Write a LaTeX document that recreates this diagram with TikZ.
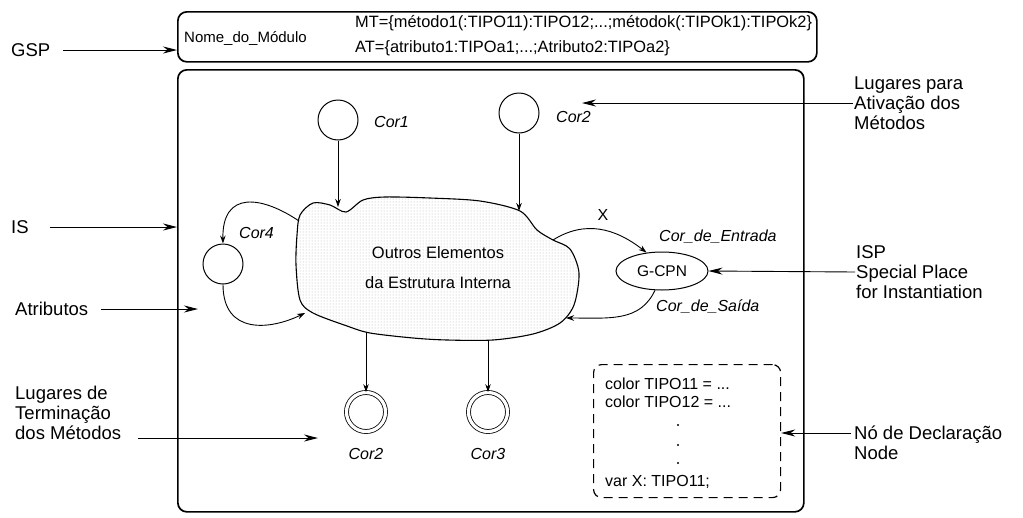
\documentclass[tikz,border=0pt]{standalone}
\usepackage{fontspec}
\setmainfont{Liberation Sans}
\usetikzlibrary{arrows.meta,positioning,patterns,shapes.geometric}

\begin{document}
\begin{tikzpicture}[x=1pt,y=-1pt,font=\fontsize{16}{20}\selectfont,
  place/.style={circle,draw,line width=1pt,minimum size=40pt,inner sep=0pt},
  endplace/.style={circle,draw,line width=0.8pt,double,double distance=3.2pt,minimum size=39pt,inner sep=0pt},
  lab/.style={font=\fontsize{16}{20}\selectfont\itshape,inner sep=1pt},
  side/.style={align=left,anchor=west,inner sep=1pt,font=\fontsize{18.5}{20}\selectfont},
  txt/.style={anchor=west,inner sep=1pt},
  arc/.style={line width=0.9pt,-{Stealth[length=8pt,width=5.5pt]}},
  pointer/.style={line width=0.9pt,-{Stealth[length=14pt,width=7pt]}},
  frame/.style={draw,line width=1.7pt,rounded corners=9pt,inner sep=0pt,anchor=north west}]
  \useasboundingbox (0,0) rectangle (1023,517);
  % module header and body
  \node[frame,minimum width=639pt,minimum height=50pt] (hdr) at (177,11) {};
  \node[frame,minimum width=626pt,minimum height=442pt] (body) at (177,69) {};
  \node[txt,font=\fontsize{15}{18}\selectfont] (modname) at (183,38) {Nome\_do\_Módulo};
  \node[txt,font=\fontsize{16.4}{20}\selectfont] (mt) at (354,23) {MT=\{método1(:TIPO11):TIPO12;...;métodok(:TIPOk1):TIPOk2\}};
  \node[txt,font=\fontsize{16.4}{20}\selectfont] (at) at (354,48) {AT=\{atributo1:TIPOa1;...;Atributo2:TIPOa2\}};
  % internal structure
  \fill[pattern=dots,pattern color=black!30]
    plot[smooth cycle,tension=0.5] coordinates {(300,215) (313,203) (330,205) (346,212)
      (363,200) (385,197) (430,198) (480,201) (520,211) (537,230) (553,240) (570,249)
      (579,273) (574,305) (560,323) (533,334) (493,340) (447,340) (413,338) (370,333)
      (347,326) (313,313) (300,300) (296,265) (297,235)};
  \draw[line width=1.1pt]
    plot[smooth cycle,tension=0.5] coordinates {(300,215) (313,203) (330,205) (346,212)
      (363,200) (385,197) (430,198) (480,201) (520,211) (537,230) (553,240) (570,249)
      (579,273) (574,305) (560,323) (533,334) (493,340) (447,340) (413,338) (370,333)
      (347,326) (313,313) (300,300) (296,265) (297,235)};
  \node[align=center,font=\fontsize{16.5}{30}\selectfont] (outros) at (438,268)
    {Outros Elementos\\da Estrutura Interna};
  \coordinate (cl1) at (338,207);
  \coordinate (cl2) at (519,211);
  \coordinate (c4out) at (299,221);
  \coordinate (c4in) at (305,313);
  \coordinate (xout) at (553,240);
  \coordinate (sin) at (566,318);
  \coordinate (cb1) at (366,332);
  \coordinate (cb2) at (488,340);
  % places
  \node[place] (cor1) at (338,120) {};
  \node[lab,anchor=west] (cor1lab) at (373,122) {Cor1};
  \node[place] (cor2a) at (519,113) {};
  \node[lab,anchor=west] (cor2alab) at (555,117) {Cor2};
  \node[place] (cor4) at (223,264) {};
  \node[lab,anchor=west] (cor4lab) at (238,233) {Cor4};
  \node[endplace] (cor2b) at (366,412) {};
  \node[lab] (cor2blab) at (366,454) {Cor2};
  \node[endplace] (cor3) at (488,412) {};
  \node[lab] (cor3lab) at (488,454) {Cor3};
  \node[draw,ellipse,line width=1pt,minimum width=92pt,minimum height=38pt,inner sep=0pt,
    font=\fontsize{15.5}{18}\selectfont] (gcpn) at (662,271) {G-CPN};
  \node[lab,anchor=west] (entlab) at (658,237) {Cor\_de\_Entrada};
  \node[lab,anchor=west] (saílab) at (655,307) {Cor\_de\_Saída};
  \node (xlab) at (603,215) {X};
  % arcs
  \draw[arc] (cor1.south) -- (cl1);
  \draw[arc] (cor2a.south) -- (cl2);
  \draw[arc] (c4out) .. controls (262,196) and (222,190) .. (cor4.north);
  \draw[arc] (cor4.south) .. controls (223,335) and (270,330) .. (c4in);
  \draw[arc] (xout) .. controls (585,220) and (615,228) .. (gcpn.130);
  \draw[arc] (gcpn.250) .. controls (640,322) and (610,318) .. (sin);
  \draw[arc] (cb1) -- (cor2b.north);
  \draw[arc] (cb2) -- (cor3.north);
  % declaration node
  \node[draw,dashed,dash pattern=on 9pt off 6pt,rounded corners=8pt,line width=1.2pt,
    minimum width=187pt,minimum height=133pt,inner sep=0pt,anchor=north west] (declbox) at (593,364) {};
  \node[txt,font=\fontsize{16}{18}\selectfont] (d1) at (604,384) {color TIPO11 = ...};
  \node[txt,font=\fontsize{16}{18}\selectfont] (d2) at (604,402) {color TIPO12 = ...};
  \foreach \y in {425,445,463}
    \fill (678,\y) circle (1.1);
  \node[txt,font=\fontsize{16}{18}\selectfont] (d3) at (604,482) {var X: TIPO11;};
  % labels on the left
  \node[side] (gsp) at (10,50) {GSP};
  \draw[pointer] ([xshift=12pt]gsp.east) -- (gsp.east -| hdr.west);
  \node[side] (is) at (10,227) {IS};
  \draw[pointer] ([xshift=20pt]is.east) -- (is.east -| body.west);
  \node[side] (atr) at (14,309) {Atributos};
  \coordinate (atrtip) at (198,309);
  \draw[pointer] ([xshift=12pt]atr.east) -- (atrtip);
  \node[side] (term) at (14,413) {Lugares de\\Terminação\\dos Métodos};
  \coordinate (termtail) at (138,438);
  \coordinate (termtip) at (318,438);
  \draw[pointer] (termtail) -- (termtip);
  % labels on the right
  \node[side] (ativ) at (853,103) {Lugares para\\Ativação dos\\Métodos};
  \coordinate (ativtip) at (582,103);
  \draw[pointer] (ativ.west) -- (ativtip);
  \node[side] (isp) at (855,272) {ISP\\Special Place\\for Instantiation};
  \draw[pointer] (isp.west) -- (gcpn.east);
  \node[side] (decl) at (853,443) {Nó de Declaração\\Node};
  \coordinate (decltail) at (851,433);
  \draw[pointer] (decltail) -- (decltail -| declbox.east);
\end{tikzpicture}
\end{document}
